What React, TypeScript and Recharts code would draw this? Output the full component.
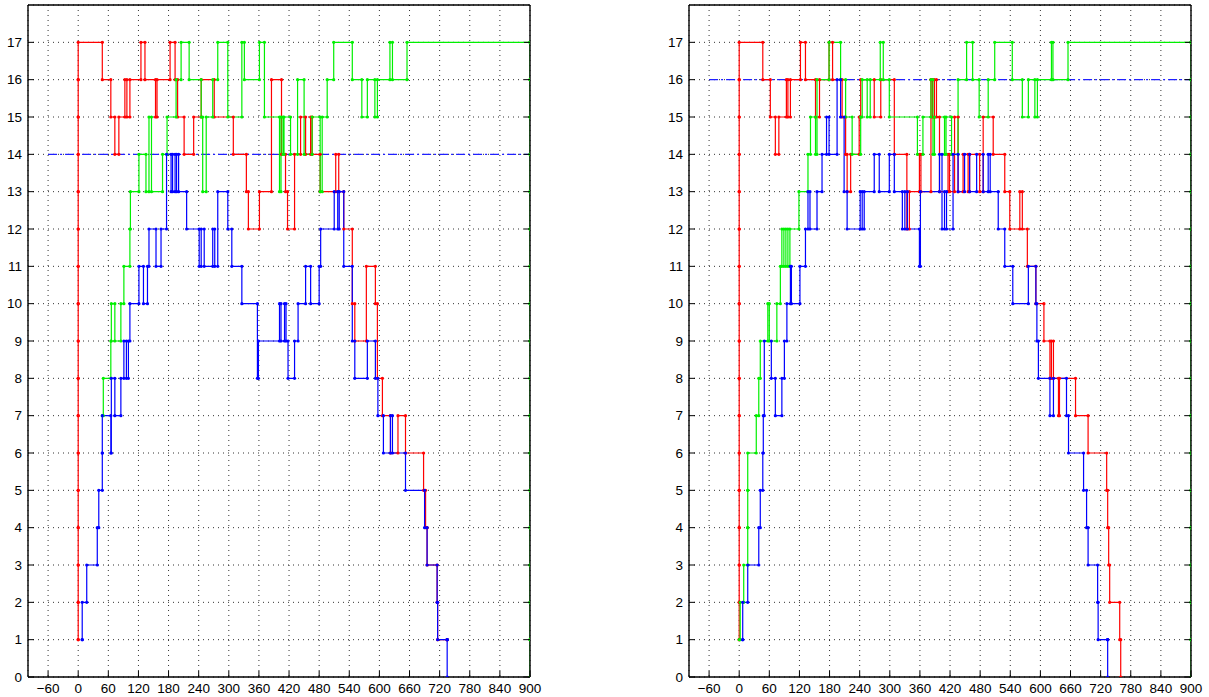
import { CartesianGrid, Line, LineChart, XAxis, YAxis } from "recharts"

type Step = [number, number]

const xTicks = [-60, 0, 60, 120, 180, 240, 300, 360, 420, 480, 540, 600, 660, 720, 780, 840, 900]
const yTicks = [0, 1, 2, 3, 4, 5, 6, 7, 8, 9, 10, 11, 12, 13, 14, 15, 16, 17]

// left panel
const leftRed: Step[] = [
  [0, 1], [0, 2], [0, 3], [0, 4], [0, 5], [0, 6], [0, 7], [0, 8], [0, 9], [0, 10], [0, 11], [0, 12], [0, 13], [0, 14], [0, 15], [0, 16], [0, 17],
  [48, 16], [65, 15], [73, 14], [81, 15], [93, 16], [97, 15], [103, 16], [125, 17], [133, 16], [154, 15], [157, 16],
  [183, 17], [193, 16], [198, 15], [211, 14], [230, 15], [245, 16], [271, 15], [309, 14], [335, 13], [339, 12],
  [361, 13], [385, 16], [405, 14], [413, 13], [417, 12], [431, 14], [443, 15], [453, 14], [463, 15], [466, 14],
  [482, 13], [513, 14], [519, 13], [529, 12], [546, 10], [551, 9], [574, 11], [592, 10], [596, 8], [606, 7],
  [622, 6], [637, 7], [652, 6], [688, 5], [692, 4], [695, 3], [715, 2], [716, 1], [735, 1],
]
const leftGreen: Step[] = [
  [48, 7], [50, 8], [65, 9], [66, 10], [73, 9], [85, 10], [91, 11], [103, 12], [104, 13], [121, 14], [135, 13],
  [141, 15], [146, 13], [168, 14], [177, 15], [195, 16], [205, 17], [221, 16], [245, 15], [248, 13], [255, 15],
  [268, 16], [278, 17], [298, 15], [326, 17], [331, 16], [361, 17], [371, 15], [401, 13], [404, 15], [408, 14],
  [410, 15], [423, 14], [437, 16], [450, 14], [466, 15], [482, 13], [486, 15], [496, 16], [509, 17], [546, 16],
  [565, 15], [576, 16], [591, 15], [596, 16], [621, 17], [626, 16], [655, 17], [900, 17],
  [900, 16], [900, 15], [900, 14], [900, 13], [900, 12], [900, 11], [900, 10], [900, 9], [900, 8], [900, 7], [900, 6], [900, 5], [900, 4], [900, 3], [900, 2], [900, 1], [900, 0],
]
const leftBlue: Step[] = [
  [8, 1], [8, 2], [17, 3], [38, 4], [41, 5], [48, 6], [48, 7], [65, 6], [66, 8], [73, 7], [85, 8], [91, 9], [96, 8],
  [100, 9], [103, 10], [121, 11], [130, 10], [138, 11], [141, 12], [155, 11], [165, 12], [176, 14], [185, 13],
  [188, 14], [193, 13], [196, 14], [200, 13], [216, 12], [241, 11], [245, 12], [251, 11], [268, 12], [272, 11],
  [278, 13], [298, 12], [306, 11], [326, 10], [357, 8], [359, 9], [401, 10], [404, 9], [411, 10], [414, 9],
  [418, 8], [431, 9], [438, 10], [453, 11], [463, 10], [480, 11], [483, 12], [510, 13], [517, 12], [520, 13],
  [529, 11], [546, 9], [551, 8], [576, 9], [592, 8], [597, 7], [608, 6], [622, 7], [626, 6], [652, 5], [690, 4],
  [695, 3], [715, 2], [716, 1], [735, 1], [735, 0],
]
const leftLimit = 14

// right panel
const rightRed: Step[] = [
  [0, 1], [0, 2], [0, 3], [0, 4], [0, 5], [0, 6], [0, 7], [0, 8], [0, 9], [0, 10], [0, 11], [0, 12], [0, 13], [0, 14], [0, 15], [0, 16], [0, 17],
  [47, 16], [62, 15], [72, 14], [79, 15], [94, 16], [97, 15], [102, 16], [122, 17], [132, 16], [152, 15], [160, 16],
  [179, 17], [186, 16], [205, 15], [212, 14], [215, 13], [222, 14], [239, 15], [242, 16], [269, 15], [282, 16],
  [309, 14], [334, 12], [339, 13], [359, 14], [362, 13], [382, 16], [385, 15], [389, 16], [393, 15], [399, 13],
  [416, 14], [419, 13], [429, 15], [436, 13], [446, 14], [456, 13], [459, 14], [479, 13], [486, 15], [506, 14],
  [529, 13], [539, 12], [559, 13], [564, 12], [574, 11], [591, 10], [607, 9], [619, 8], [622, 9], [626, 8],
  [636, 7], [638, 8], [670, 7], [695, 6], [732, 5], [734, 4], [736, 3], [738, 2], [758, 1], [760, 0],
]
const rightGreen: Step[] = [
  [0, 1], [2, 2], [9, 3], [17, 4], [17, 5], [17, 6], [34, 7], [39, 8], [42, 9], [57, 10], [60, 9], [75, 10],
  [82, 11], [85, 12], [89, 11], [93, 12], [97, 11], [101, 12], [119, 13], [137, 14], [142, 15], [152, 14],
  [155, 16], [179, 17], [202, 16], [212, 15], [225, 14], [242, 15], [245, 16], [255, 15], [261, 16], [281, 17],
  [287, 16], [299, 15], [355, 14], [366, 15], [382, 16], [386, 14], [389, 15], [409, 14], [412, 15], [423, 14],
  [436, 16], [453, 17], [465, 16], [478, 15], [496, 16], [509, 17], [544, 16], [564, 15], [576, 16], [589, 15],
  [594, 16], [622, 17], [625, 16], [655, 17], [900, 17],
  [900, 16], [900, 15], [900, 14], [900, 13], [900, 12], [900, 11], [900, 10], [900, 9], [900, 8], [900, 7], [900, 6], [900, 5], [900, 4], [900, 3], [900, 2], [900, 1], [900, 0],
]
const rightBlue: Step[] = [
  [7, 1], [7, 2], [17, 3], [39, 4], [42, 5], [47, 6], [48, 7], [50, 9], [64, 8], [72, 7], [85, 8], [90, 9],
  [95, 10], [102, 11], [104, 10], [121, 11], [132, 12], [137, 13], [141, 12], [155, 13], [165, 14], [174, 15],
  [179, 14], [195, 16], [202, 15], [209, 13], [215, 12], [241, 13], [245, 12], [249, 13], [269, 14], [279, 13],
  [299, 14], [309, 13], [325, 12], [330, 13], [335, 12], [359, 11], [361, 13], [399, 14], [404, 12], [409, 13],
  [413, 12], [426, 14], [436, 13], [449, 14], [459, 13], [473, 14], [486, 13], [496, 14], [500, 13], [516, 12],
  [529, 11], [545, 10], [576, 11], [591, 10], [593, 9], [596, 8], [619, 7], [626, 8], [652, 7], [656, 6],
  [686, 5], [692, 4], [695, 3], [714, 2], [715, 1], [734, 1], [734, 0],
]
const rightLimit = 16

const FONT = "'Liberation Sans', Arial, Helvetica, sans-serif"
const FRAME = { stroke: "#000", strokeWidth: 1.4 }

// turn step points into corner points, so both ends of every flat piece get a marker
function stairs(steps: Step[]) {
  const pts: { x: number; y: number }[] = []
  steps.forEach(([x, y], i) => {
    if (i > 0) pts.push({ x, y: steps[i - 1][1] })
    pts.push({ x, y })
  })
  return pts
}

const fmtX = (v: number) => (v < 0 ? "\u2212" + Math.abs(v) : String(v))

function BottomTick(props: any) {
  const { x, y, payload } = props
  return (
    <g>
      <line x1={x} x2={x} y1={y} y2={y - 6} stroke="#000" />
      <text x={x} y={y + 16} textAnchor="middle" fontSize={13.5} fontFamily={FONT} fill="#000">
        {fmtX(payload.value)}
      </text>
    </g>
  )
}

function LeftTick(props: any) {
  const { x, y, payload } = props
  return (
    <g>
      <line x1={x} x2={x + 6} y1={y} y2={y} stroke="#000" />
      <text x={x - 6} y={y + 4.5} textAnchor="end" fontSize={13.5} fontFamily={FONT} fill="#000">
        {payload.value}
      </text>
    </g>
  )
}

function TopTick(props: any) {
  const { x, y } = props
  return <line x1={x} x2={x} y1={y} y2={y + 6} stroke="#000" />
}

function RightTick(props: any) {
  const { x, y } = props
  return <line x1={x} x2={x - 6} y1={y} y2={y} stroke="#000" />
}

interface PanelProps {
  red: Step[]
  green: Step[]
  blue: Step[]
  limit: number
}

function Panel({ red, green, blue, limit }: PanelProps) {
  const limitLine = [
    { x: xTicks[0], y: limit },
    { x: xTicks[xTicks.length - 1], y: limit },
  ]
  const series = [
    { name: "red", color: "#ff0000", data: stairs(red) },
    { name: "green", color: "#00f000", data: stairs(green) },
    { name: "blue", color: "#0000ff", data: stairs(blue) },
  ]
  return (
    <LineChart width={546} height={697} margin={{ top: 4, right: 15, bottom: 0, left: 0 }}>
      <CartesianGrid stroke="#333" strokeDasharray="1 4" />
      <XAxis
        dataKey="x"
        type="number"
        domain={[-100, 900]}
        ticks={xTicks}
        interval={0}
        height={20}
        tickSize={0}
        tickMargin={0}
        tickLine={false}
        axisLine={FRAME}
        tick={(p: any) => <BottomTick {...p} />}
        allowDataOverflow
      />
      <XAxis
        xAxisId="top"
        orientation="top"
        type="number"
        domain={[-100, 900]}
        ticks={xTicks}
        interval={0}
        height={1}
        tickSize={0}
        tickMargin={0}
        tickLine={false}
        axisLine={FRAME}
        tick={(p: any) => <TopTick {...p} />}
        allowDataOverflow
      />
      <YAxis
        type="number"
        domain={[0, 18]}
        ticks={yTicks}
        interval={0}
        width={28}
        tickSize={0}
        tickMargin={0}
        tickLine={false}
        axisLine={FRAME}
        tick={(p: any) => <LeftTick {...p} />}
        allowDataOverflow
      />
      <YAxis
        yAxisId="right"
        orientation="right"
        type="number"
        domain={[0, 18]}
        ticks={yTicks}
        interval={0}
        width={1}
        tickSize={0}
        tickMargin={0}
        tickLine={false}
        axisLine={FRAME}
        tick={(p: any) => <RightTick {...p} />}
        allowDataOverflow
      />
      <Line
        data={limitLine}
        dataKey="y"
        type="linear"
        stroke="#2020ff"
        strokeWidth={1.2}
        strokeDasharray="9 3 2 3"
        dot={false}
        isAnimationActive={false}
      />
      {series.map((s) => (
        <Line
          key={s.name}
          data={s.data}
          dataKey="y"
          type="linear"
          stroke={s.color}
          strokeWidth={1.2}
          dot={{ r: 1.6, fill: s.color, stroke: "none" }}
          isAnimationActive={false}
        />
      ))}
    </LineChart>
  )
}

export default function App() {
  return (
    <div style={{ position: "absolute", left: 0, top: 0, width: 1209, height: 697, background: "#fff" }}>
      <div style={{ position: "absolute", left: 0, top: 0 }}>
        <Panel red={leftRed} green={leftGreen} blue={leftBlue} limit={leftLimit} />
      </div>
      <div style={{ position: "absolute", left: 661, top: 0 }}>
        <Panel red={rightRed} green={rightGreen} blue={rightBlue} limit={rightLimit} />
      </div>
    </div>
  )
}
